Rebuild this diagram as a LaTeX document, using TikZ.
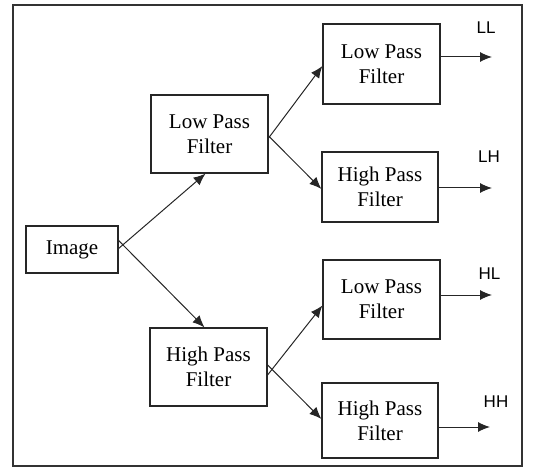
\documentclass[tikz,border=0pt]{standalone}
\usepackage{fontspec}
\setmainfont{Liberation Serif}
\newfontfamily\labfont{Liberation Sans}
\usetikzlibrary{arrows.meta}
\begin{document}
\begin{tikzpicture}[x=1pt,y=-1pt,
  filt/.style={draw=black!85,line width=1.2pt,rectangle,inner sep=0pt,align=center,
    font=\fontsize{21}{25}\selectfont,minimum width=117pt},
  conn/.style={draw=black!85,line width=1pt,-{Latex[length=12pt,width=10pt]}},
  lab/.style={font=\labfont\fontsize{17}{18}\selectfont,inner sep=0pt}]
\useasboundingbox (0,0) rectangle (536,468);
\draw[black!80,line width=1.6pt] (13,5) rectangle (522,466);
\node[filt,minimum width=92pt,minimum height=47pt] (img) at (72,249.5) {Image};
\node[filt,minimum height=78pt] (lpf) at (209.5,134) {Low Pass\\Filter};
\node[filt,minimum height=78pt] (hpf) at (208.5,367) {High Pass\\Filter};
\node[filt,minimum height=80pt] (ll) at (381.5,64) {Low Pass\\Filter};
\node[filt,minimum width=116pt,minimum height=70pt] (lh) at (380,187) {High Pass\\Filter};
\node[filt,minimum height=79pt] (hl) at (381.5,299.5) {Low Pass\\Filter};
\node[filt,minimum width=116pt,minimum height=75pt] (hh) at (380,420.5) {High Pass\\Filter};
\coordinate (oll) at (492,57);
\coordinate (olh) at (492,188);
\coordinate (ohl) at (492,295);
\coordinate (ohh) at (490,427);
\draw[conn] ([yshift=1pt]img.east) -- ([xshift=-4pt]lpf.south);
\draw[conn] ([yshift=9pt]img.east) -- ([xshift=-4pt]hpf.north);
\draw[conn] ([yshift=-4pt]lpf.east) -- ([yshift=-2pt]ll.west);
\draw[conn] ([yshift=-2pt]lpf.east) -- ([yshift=-2pt]lh.west);
\draw[conn] ([yshift=-8pt]hpf.east) -- ([yshift=-6pt]hl.west);
\draw[conn] ([yshift=2pt]hpf.east) -- ([yshift=1.5pt]hh.west);
\draw[conn] (ll.east |- oll) -- (oll);
\draw[conn] (lh.east |- olh) -- (olh);
\draw[conn] (hl.east |- ohl) -- (ohl);
\draw[conn] (hh.east |- ohh) -- (ohh);
\node[lab] (tll) at (486,28) {LL};
\node[lab] (tlh) at (489,157) {LH};
\node[lab] (thl) at (489.5,274) {HL};
\node[lab] (thh) at (496,402) {HH};
\end{tikzpicture}
\end{document}
